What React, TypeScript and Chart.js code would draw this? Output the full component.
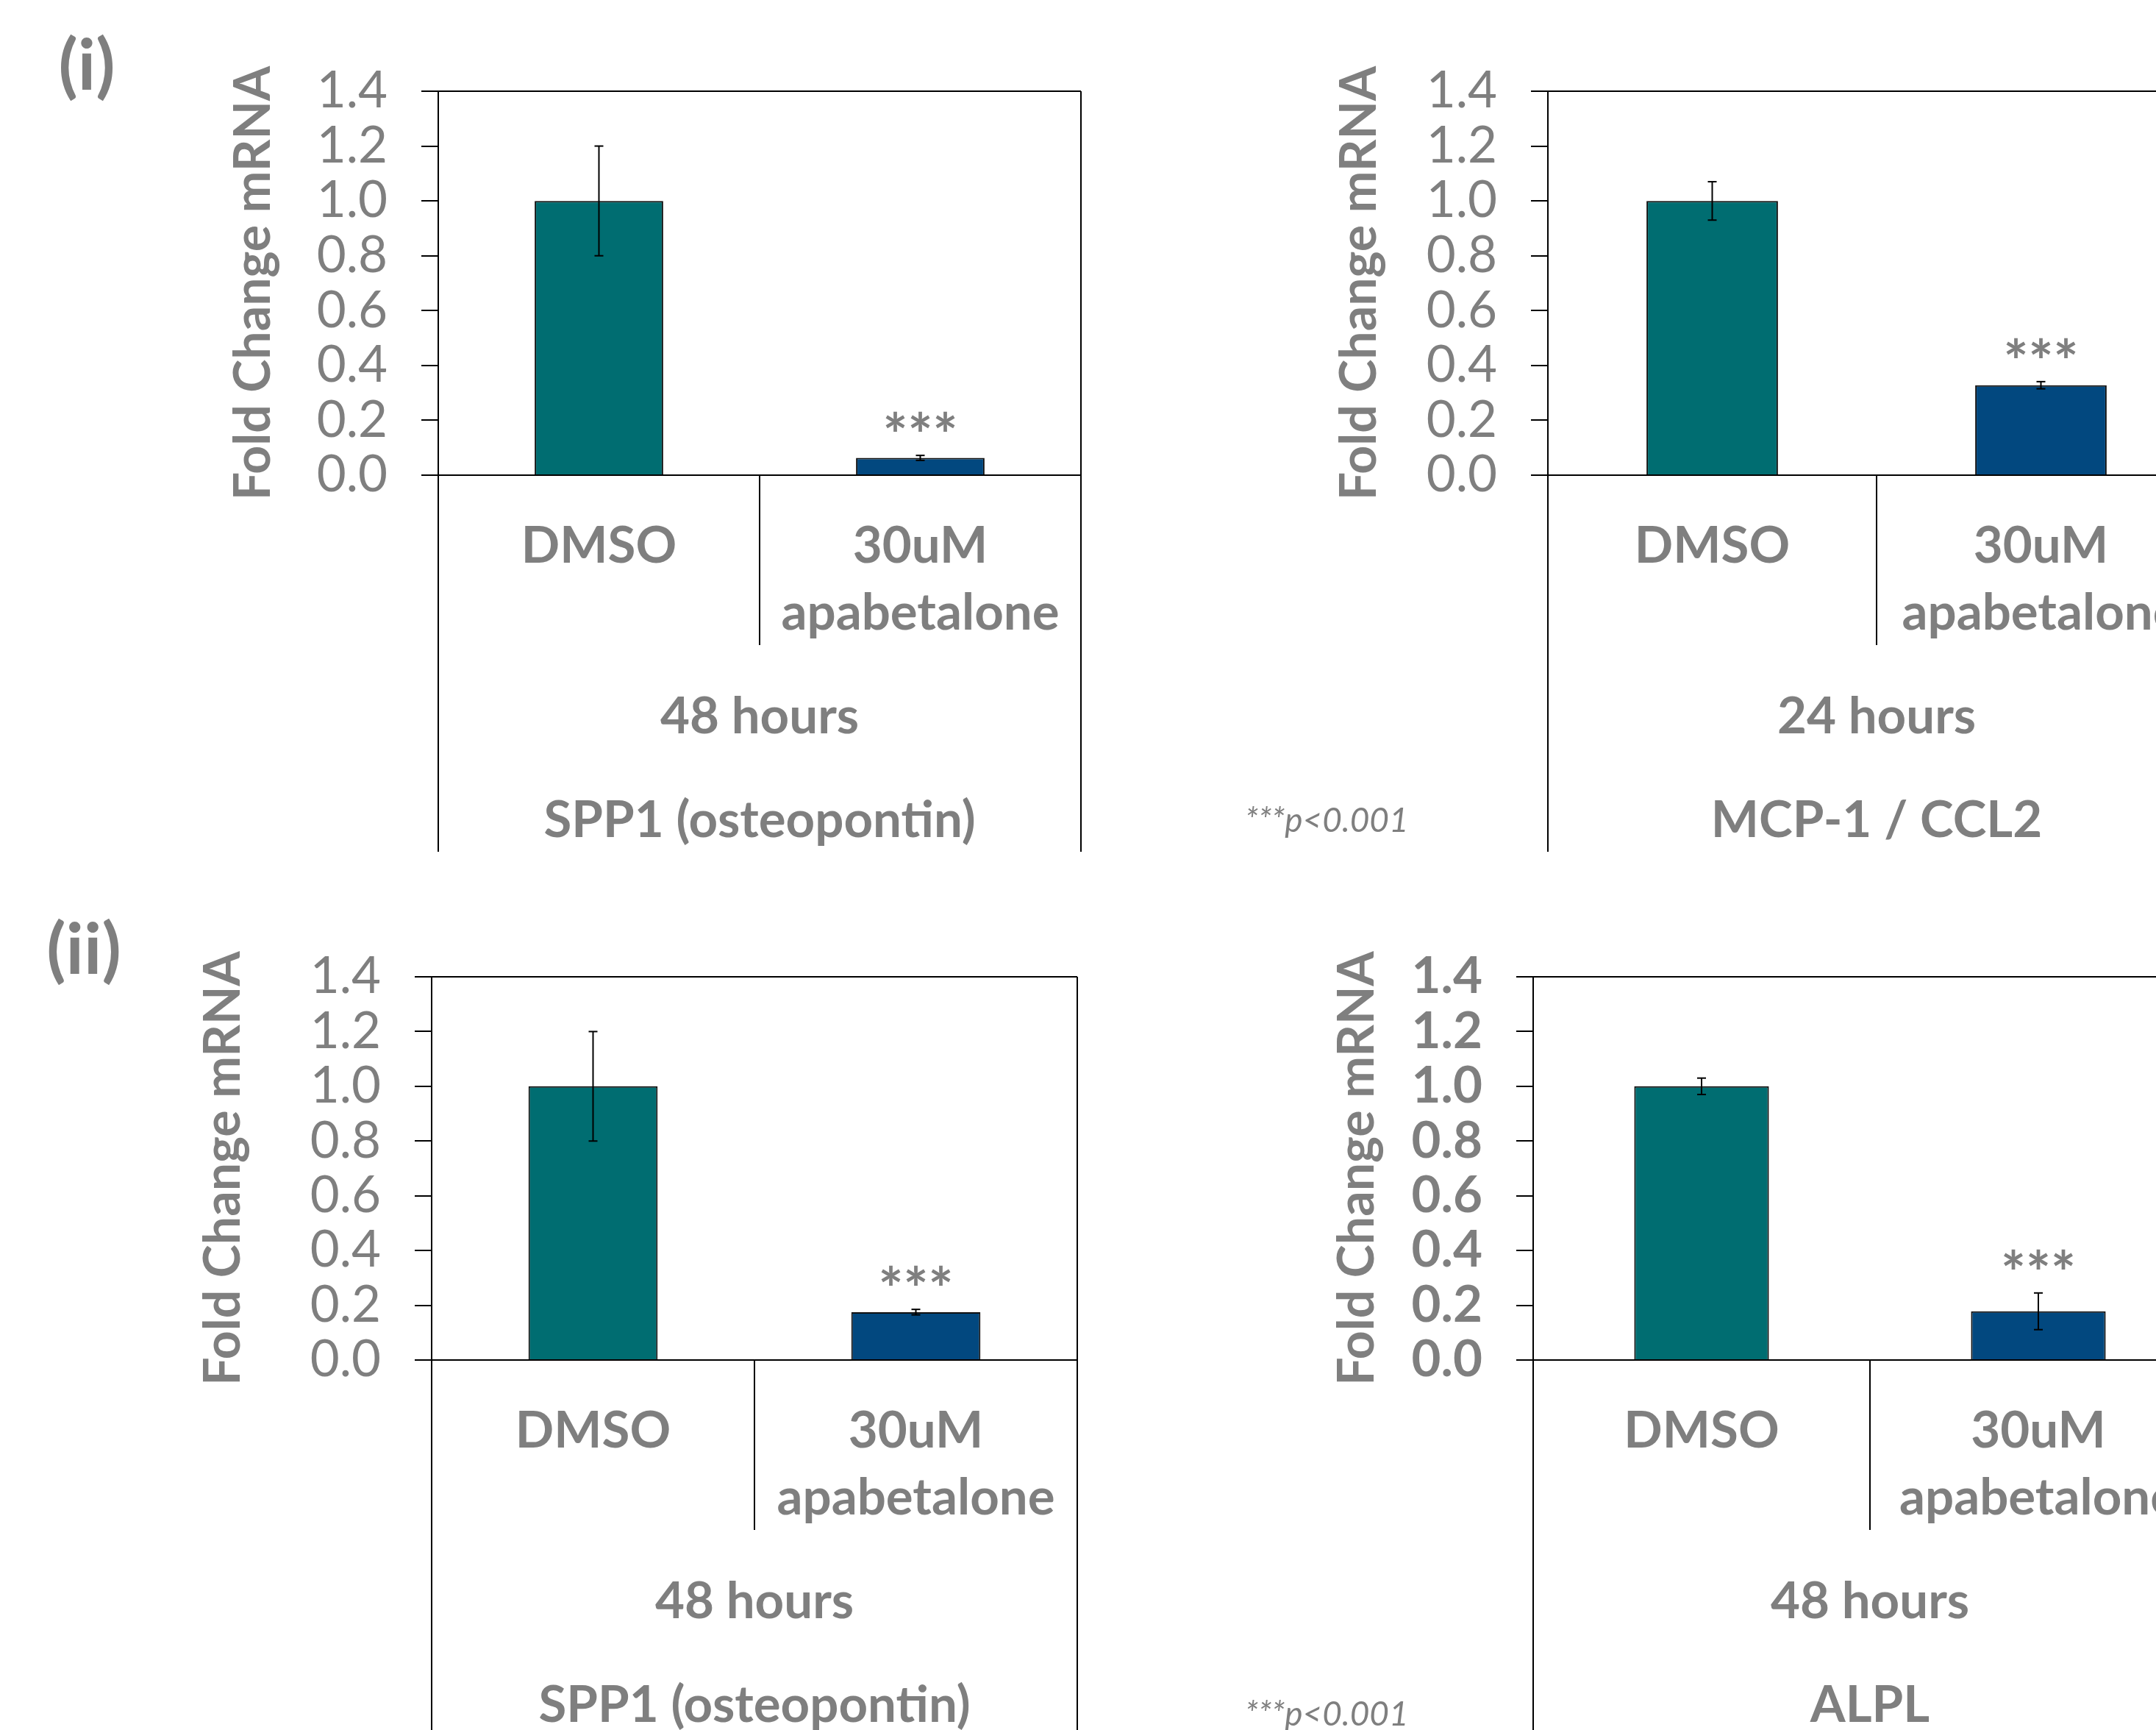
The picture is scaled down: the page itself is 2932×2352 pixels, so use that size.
import React, { useEffect, useRef } from 'react';
import { Chart, registerables } from 'chart.js';

Chart.register(...registerables);

// ---------------- data ----------------
const categories = ['DMSO', '30uM apabetalone'];
const categoryLines = [['DMSO'], ['30uM', 'apabetalone']];
const significance = ['', '***'];

const spp1A_values = [1.0, 0.063];
const spp1A_errors = [0.2, 0.009];
const mcp1_values = [1.0, 0.328];
const mcp1_errors = [0.07, 0.013];
const spp1B_values = [1.0, 0.175];
const spp1B_errors = [0.2, 0.01];
const alpl_values = [1.0, 0.178];
const alpl_errors = [0.03, 0.067];

const timeLabels = ['48 hours', '24 hours', '48 hours', '48 hours'];
const geneLabels = ['SPP1 (osteopontin)', 'MCP-1 / CCL2', 'SPP1 (osteopontin)', 'ALPL'];
const panelTags = ['(i)', '', '(ii)', ''];
const pNote = '***p<0.001';
const yTitle = 'Fold Change mRNA';
const yTickValues = [0, 0.2, 0.4, 0.6, 0.8, 1.0, 1.2, 1.4];
const yMin = 0;
const yMax = 1.4;

// ---------------- styles / layout ----------------
const GRAY = '#7F7F7F';
const BAR_COLORS = ['#006D71', '#02487F'];
const FONT = 'Lato';
const CW = 3100;
const CH = 2400;
const Y_W = 250;

type Layout = {
  axisX: number; top: number; zero: number; catW: number; bottom: number;
  titleBaseX: number; boldTicks: boolean;
  tagX: number; tagY: number; noteX: number; noteY: number; showNote: boolean;
};

const layouts: Layout[] = [
  { axisX: 596, top: 124, zero: 646, catW: 437, bottom: 1158, titleBaseX: 367, boldTicks: false, tagX: 118, tagY: 122, noteX: 0, noteY: 0, showNote: false },
  { axisX: 2105, top: 124, zero: 646, catW: 447, bottom: 1158, titleBaseX: 1871, boldTicks: false, tagX: 0, tagY: 0, noteX: 1693, noteY: 1131, showNote: true },
  { axisX: 587, top: 1328, zero: 1849, catW: 439, bottom: 2352, titleBaseX: 326, boldTicks: false, tagX: 114, tagY: 1324, noteX: 0, noteY: 0, showNote: false },
  { axisX: 2085, top: 1328, zero: 1849, catW: 458, bottom: 2352, titleBaseX: 1868, boldTicks: true, tagX: 0, tagY: 0, noteX: 1693, noteY: 2346, showNote: true },
];

const panelValues = [spp1A_values, mcp1_values, spp1B_values, alpl_values];
const panelErrors = [spp1A_errors, mcp1_errors, spp1B_errors, alpl_errors];

function makeDecor(idx: number) {
  const p = layouts[idx];
  const values = panelValues[idx];
  const errors = panelErrors[idx];
  return {
    id: 'decor' + idx,
    afterDraw(chart: any) {
      const ctx: CanvasRenderingContext2D = chart.ctx;
      const { left, right, top, bottom } = chart.chartArea;
      const xs = chart.scales.x;
      const ys = chart.scales.y;
      const line = (x1: number, y1: number, x2: number, y2: number) => {
        ctx.beginPath(); ctx.moveTo(x1, y1); ctx.lineTo(x2, y2); ctx.stroke();
      };
      ctx.save();
      ctx.strokeStyle = '#000';
      ctx.lineWidth = 2;
      ctx.lineCap = 'butt';
      // frame
      line(left, top, right, top);
      line(right, top, right, p.bottom);
      line(left, bottom, left, p.bottom);
      line(left - 23, bottom, right, bottom);
      const sepX = (xs.getPixelForValue(0) + xs.getPixelForValue(1)) / 2;
      line(sepX, bottom, sepX, bottom + 231);

      // error bars
      ctx.lineWidth = 2;
      values.forEach((v, i) => {
        const cx = xs.getPixelForValue(i);
        const yHi = ys.getPixelForValue(v + errors[i]);
        const yLo = ys.getPixelForValue(v - errors[i]);
        line(cx, yHi, cx, yLo);
        line(cx - 6, yHi, cx + 6, yHi);
        line(cx - 6, yLo, cx + 6, yLo);
      });

      // significance
      ctx.fillStyle = GRAY;
      ctx.textAlign = 'center';
      ctx.textBaseline = 'alphabetic';
      ctx.font = `bold 80px ${FONT}`;
      values.forEach((v, i) => {
        if (!significance[i]) return;
        const cx = xs.getPixelForValue(i);
        const yHi = ys.getPixelForValue(v + errors[i]);
        ctx.fillText(significance[i], cx, yHi + 2);
      });

      // category labels
      ctx.font = `bold 69px ${FONT}`;
      categoryLines.forEach((lines, i) => {
        const cx = xs.getPixelForValue(i);
        lines.forEach((t, k) => ctx.fillText(t, cx, bottom + 119 + k * 91));
      });
      const mid = (left + right) / 2;
      ctx.fillText(timeLabels[idx], mid, bottom + 351);
      ctx.fillText(geneLabels[idx], mid, bottom + 492);

      // y title
      ctx.save();
      ctx.translate(p.titleBaseX, (top + bottom) / 2);
      ctx.rotate(-Math.PI / 2);
      ctx.font = `bold 68px ${FONT}`;
      ctx.fillText(yTitle, 0, 0);
      ctx.restore();

      // panel tag
      if (panelTags[idx]) {
        ctx.font = `bold 96px ${FONT}`;
        ctx.textAlign = 'center';
        ctx.fillText(panelTags[idx], p.tagX, p.tagY);
      }
      if (p.showNote) {
        ctx.font = `italic 46px ${FONT}`;
        ctx.textAlign = 'left';
        ctx.fillText(pNote, p.noteX, p.noteY);
      }
      ctx.restore();
    },
  };
}

function Panel({ idx }: { idx: number }) {
  const ref = useRef<HTMLCanvasElement | null>(null);
  useEffect(() => {
    const p = layouts[idx];
    const canvas = ref.current!;
    const chart = new Chart(canvas, {
      type: 'bar',
      data: {
        labels: categories,
        datasets: [{
          data: panelValues[idx],
          backgroundColor: BAR_COLORS,
          borderColor: '#111',
          borderWidth: 2,
          barPercentage: 0.4,
          categoryPercentage: 1,
        }],
      },
      options: {
        responsive: false,
        animation: false,
        devicePixelRatio: 1,
        events: [],
        layout: {
          padding: {
            left: p.axisX - Y_W,
            top: p.top,
            right: CW - (p.axisX + 2 * p.catW),
            bottom: CH - p.bottom,
          },
        },
        plugins: { legend: { display: false }, tooltip: { enabled: false }, title: { display: false } },
        scales: {
          x: {
            type: 'category',
            ticks: { display: false },
            grid: { display: false },
            border: { display: false },
            afterFit: (s: any) => { s.height = p.bottom - p.zero; },
          },
          y: {
            min: yMin,
            max: yMax,
            afterBuildTicks: (s: any) => { s.ticks = yTickValues.map((v) => ({ value: v })); },
            ticks: {
              autoSkip: false,
              callback: (v: any) => Number(v).toFixed(1),
              color: GRAY,
              font: { family: FONT, size: 69, weight: p.boldTicks ? 'bold' : 'normal' },
              padding: 46,
            },
            grid: { drawOnChartArea: false, drawTicks: true, tickLength: 23, color: '#000', lineWidth: 2 },
            border: { display: true, color: '#000', width: 2 },
            afterFit: (s: any) => { s.width = Y_W; },
          },
        },
      } as any,
      plugins: [makeDecor(idx)],
    });
    return () => chart.destroy();
  }, [idx]);
  return (
    <canvas
      ref={ref}
      width={CW}
      height={CH}
      style={{ position: 'absolute', left: 0, top: 0, width: CW, height: CH }}
    />
  );
}

export default function App() {
  return (
    <div style={{ position: 'absolute', left: 0, top: 0, width: 2932, height: 2352, overflow: 'hidden', background: '#fff' }}>
      {layouts.map((_, i) => <Panel key={i} idx={i} />)}
    </div>
  );
}
